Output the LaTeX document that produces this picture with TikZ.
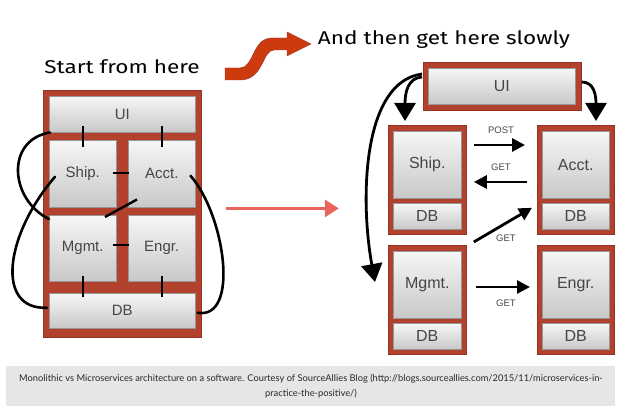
\documentclass[tikz,border=0pt]{standalone}
\usepackage{fontspec}
\setmainfont{Liberation Sans}
\newfontfamily\handfont{Fira Sans}
\newfontfamily\capfont{Lato}
\usetikzlibrary{arrows.meta,calc}
\definecolor{fr}{RGB}{178,66,46}
\definecolor{frd}{RGB}{150,50,34}
\definecolor{boxtop}{RGB}{246,246,246}
\definecolor{boxbot}{RGB}{200,200,200}
\definecolor{boxln}{RGB}{150,150,150}
\definecolor{txt}{RGB}{70,70,70}
\definecolor{sred}{RGB}{204,58,14}
\definecolor{pinkarr}{RGB}{233,100,92}
\definecolor{capbg}{RGB}{230,230,230}
\definecolor{captxt}{RGB}{40,40,40}
\begin{document}
\begin{tikzpicture}[x=1pt,y=-1pt,
  frame/.style={draw=frd, fill=fr, line width=0.8pt, inner sep=0pt, anchor=north west},
  box/.style={draw=boxln, top color=boxtop, bottom color=boxbot, line width=0.5pt, inner sep=0pt, anchor=north west, text=txt, font=\fontsize{15}{15}\selectfont},
  rbox/.style={box, font=\fontsize{16}{16}\selectfont},
  tick/.style={line width=2.4pt, black},
  curve/.style={line width=2.6pt, black, line cap=round},
  bigarr/.style={line width=2.8pt, black, -{Triangle[width=21pt,length=18pt]}},
  midarr/.style={line width=2.8pt, black, -{Triangle[width=13pt,length=13pt]}},
  lbl/.style={font=\fontsize{9.5}{10}\selectfont, text=txt, inner sep=0pt},
  hand/.style={font=\handfont\fontsize{18.5}{18.5}\selectfont, inner sep=0pt, xscale=1.22}
]
\useasboundingbox (0,0) rectangle (621,406);

% ---------- titles ----------
\node[hand] (t1) at (122,67) {Start from here};
\node[hand] (t2) at (444,40) {And then get here slowly};

% S-shaped red arrow
\fill[sred, draw=frd, line width=0.4pt]
  (225,68) -- (240,68) .. controls (254,68) and (252,38) .. (272,38) -- (287,38)
  -- (287,32) -- (311,44) -- (287,56) -- (287,50) -- (274,50)
  .. controls (262,50) and (264,80) .. (240,80) -- (225,80) -- cycle;

% ---------- monolith (left) ----------
\node[frame, minimum width=158pt, minimum height=247pt] (lF) at (43,90) {};
\node[box, minimum width=146pt, minimum height=36pt] (lui) at (49,96) {UI};
\node[box, minimum width=67pt, minimum height=67pt] (lship) at (49,140) {Ship.};
\node[box, minimum width=67pt, minimum height=67pt] (lacct) at (128,140) {Acct.};
\node[box, minimum width=67pt, minimum height=66pt] (lmgmt) at (49,215) {Mgmt.};
\node[box, minimum width=67pt, minimum height=66pt] (lengr) at (128,215) {Engr.};
\node[box, minimum width=146pt, minimum height=35pt] (ldb) at (49,293) {DB};

\draw[tick] ($(lui.south west)+(34,-6)$) -- ($(lship.north west)+(34,7)$);
\draw[tick] ($(lui.south west)+(113,-6)$) -- ($(lacct.north west)+(34,7)$);
\draw[tick] ($(lship.north east)+(-4,33)$) -- ($(lacct.north west)+(1,33)$);
\draw[tick] ($(lmgmt.north east)+(-4,30)$) -- ($(lengr.north west)+(1,30)$);
\draw[tick] ($(lmgmt.south west)+(34,-6)$) -- ($(ldb.north west)+(34,4)$);
\draw[tick] ($(lengr.south west)+(34,-6)$) -- ($(ldb.north west)+(113,4)$);
\draw[tick] ($(lacct.south west)+(9,-8)$) -- ($(lmgmt.north west)+(56,2)$);

\draw[curve] ($(lui.south west)+(1,0)$) .. controls (5,140) and (10,200) .. ($(lmgmt.north west)+(0,4)$);
\draw[curve] ($(lship.west)+(6,3)$) .. controls (5,235) and (-5,310) .. ($(ldb.west)+(-2,-3)$);
\draw[curve] ($(lacct.east)+(-5,2)$) .. controls (225,215) and (240,320) .. ($(ldb.east)+(2,2)$);

% ---------- transition arrow ----------
\draw[pinkarr, line width=3pt, -{Triangle[width=17pt,length=14pt]}]
  ($(lF.east)+(24,-5.5)$) -- ($(lF.east)+(137,-5.5)$);

% ---------- microservices (right) ----------
\node[frame, minimum width=158pt, minimum height=48pt] (uiF) at (423,62) {};
\node[rbox, minimum width=147pt, minimum height=36pt] (ui) at (428,68) {UI};

\node[frame, minimum width=78pt, minimum height=109pt] (shipF) at (388,125) {};
\node[rbox, minimum width=68pt, minimum height=67pt] (ship) at (393,131) {Ship.};
\node[rbox, minimum width=68pt, minimum height=26pt] (shipdb) at (393,203) {DB};

\node[frame, minimum width=77pt, minimum height=109pt] (acctF) at (537,125) {};
\node[rbox, minimum width=67pt, minimum height=67pt] (acct) at (542,131) {Acct.};
\node[rbox, minimum width=67pt, minimum height=26pt] (acctdb) at (542,203) {DB};

\node[frame, minimum width=78pt, minimum height=109pt] (mgmtF) at (388,245) {};
\node[rbox, minimum width=68pt, minimum height=67pt] (mgmt) at (393,251) {Mgmt.};
\node[rbox, minimum width=68pt, minimum height=26pt] (mgmtdb) at (393,323) {DB};

\node[frame, minimum width=77pt, minimum height=109pt] (engrF) at (537,245) {};
\node[rbox, minimum width=67pt, minimum height=67pt] (engr) at (542,251) {Engr.};
\node[rbox, minimum width=67pt, minimum height=26pt] (engrdb) at (542,323) {DB};

% UI arrows
\draw[bigarr] ($(uiF.north west)+(-1,15)$) .. controls (408,78) and (405,92) .. ($(shipF.north west)+(17,-4)$);
\draw[bigarr] ($(uiF.north west)+(-1,12)$) .. controls (362,82) and (360,200) .. ($(mgmtF.north west)+(-13,37)$);
\draw[bigarr] ($(uiF.north east)+(0,20)$) .. controls (594,82) and (596,95) .. ($(acctF.north west)+(59,-4)$);

% service calls
\draw[midarr] ($(shipF.north east)+(7,20)$) -- ($(acctF.north west)+(-12,20)$);
\node[lbl] (lpost) at (501,130) {POST};
\draw[midarr] ($(acctF.north west)+(-10,57)$) -- ($(shipF.north east)+(7,57)$);
\node[lbl] (lget1) at (501,167) {GET};
\draw[midarr] ($(mgmtF.north east)+(7,-3)$) -- ($(acctF.south west)+(-5,-27)$);
\node[lbl] (lget2) at (506,238) {GET};
\draw[midarr] ($(mgmtF.north east)+(9,42)$) -- ($(engrF.north west)+(-7,42)$);
\node[lbl] (lget3) at (506,303) {GET};

% ---------- caption ----------
\node[fill=capbg, minimum width=609pt, minimum height=40pt, inner sep=0pt, anchor=north west] (capbox) at (6,366) {};
\node[font=\capfont\fontsize{9.3}{10}\selectfont, text=captxt, inner sep=0pt] (cap1) at (311,379)
  {Monolithic vs Microservices architecture on a software. Courtesy of SourceAllies Blog (http://blogs.sourceallies.com/2015/11/microservices-in-};
\node[font=\capfont\fontsize{9.3}{10}\selectfont, text=captxt, inner sep=0pt] (cap2) at (311,394) {practice-the-positive/)};
\end{tikzpicture}
\end{document}
